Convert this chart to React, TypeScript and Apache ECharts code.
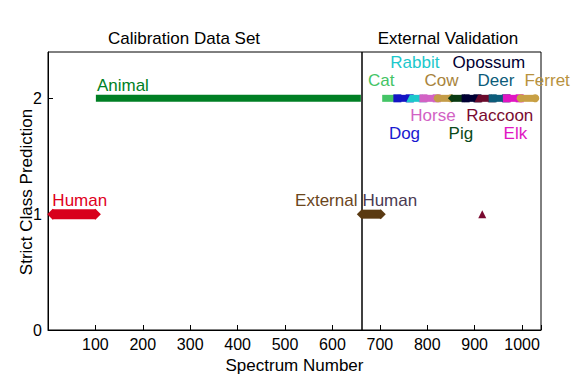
import React, { useEffect, useRef } from "react";
import * as echarts from "echarts";

// Segments of consecutive spectra and their strict class prediction (1 = Human, 2 = Animal)
const segmentNames = ["Human", "Animal", "External Human", "Cat", "Dog", "Rabbit", "Horse", "Cow", "Pig", "Opossum", "Raccoon", "Deer", "Elk", "Ferret"];
const segmentStart = [10, 101, 662, 705, 737, 764, 792, 822, 852, 881, 908, 938, 968, 997];
const segmentEnd = [100, 660, 702, 735, 763, 790, 820, 850, 879, 906, 936, 966, 995, 1028];
const segmentClass = [1, 2, 1, 2, 2, 2, 2, 2, 2, 2, 2, 2, 2, 2];
const segmentColors = ["#d8001c", "#007f24", "#5a3a12", "#44c466", "#1414c4", "#1cc8cc", "#d262c4", "#c49c48", "#0a3a12", "#000033", "#6a0a2c", "#0c5c7a", "#e016c2", "#c8a044"];

// A single misclassified spectrum
const outlierX = [916];
const outlierY = [1];

// Annotation texts
const labelNames = ["Human", "Animal", "External", "Human", "Cat", "Rabbit", "Opossum", "Cow", "Deer", "Ferret", "Horse", "Raccoon", "Dog", "Pig", "Elk"];
const labelX = [67, 158, 587, 721, 703, 774, 930, 830, 945, 1053, 812, 953, 752, 871, 986];
const labelY = [1.12, 2.11, 1.12, 1.12, 2.15, 2.31, 2.31, 2.15, 2.15, 2.15, 1.85, 1.85, 1.7, 1.7, 1.7];
const labelColors = ["#e0001c", "#007f24", "#6b461c", "#4a3a52", "#44c466", "#1cc8cc", "#000033", "#a8843c", "#0c5c7a", "#b8923e", "#d262c4", "#7a0a30", "#1a1ad0", "#0a4a1a", "#e016c2"];

const xTicks = [100, 200, 300, 400, 500, 600, 700, 800, 900, 1000];
const yTicks = [0, 1, 2];
const boundaryX = 661;
const panelTitles = ["Calibration Data Set", "External Validation"];
const xAxisTitle = "Spectrum Number";
const yAxisTitle = "Strict Class Prediction";

const FONT = "'Liberation Sans', Arial, Helvetica, sans-serif";

export default function App() {
  const ref = useRef<HTMLDivElement>(null);
  useEffect(() => {
    if (!ref.current) return;
    const chart = echarts.init(ref.current, undefined, { renderer: "svg" });
    const symbols: Record<string, string> = {
      Human: "diamond",
      Animal: "none",
      "External Human": "diamond",
      Cat: "none",
      Dog: "rect",
      Rabbit: "triangle",
      Horse: "rect",
      Cow: "circle",
      Pig: "diamond",
      Opossum: "rect",
      Raccoon: "triangle",
      Deer: "rect",
      Elk: "rect",
      Ferret: "circle",
    };
    const segSeries = segmentNames.map((n, i) => {
      const thick = n === "Human" ? 10 : n === "External Human" ? 9 : 7;
      return {
        type: "line",
        name: n,
        data: [
          [segmentStart[i], segmentClass[i]],
          [segmentEnd[i], segmentClass[i]],
        ],
        symbol: symbols[n],
        symbolSize: n === "Human" ? 11 : n === "External Human" ? 10 : 8,
        showSymbol: true,
        clip: false,
        silent: true,
        itemStyle: { color: segmentColors[i], opacity: 1 },
        lineStyle: { color: segmentColors[i], width: thick, cap: "butt", opacity: 1 },
        z: 3 + i,
      };
    });
    const option: any = {
      animation: false,
      backgroundColor: "#fff",
      textStyle: { fontFamily: FONT },
      grid: { left: 48, right: 33, top: 52, bottom: 57, show: true, borderColor: "#000", borderWidth: 1, backgroundColor: "transparent" },
      xAxis: {
        type: "value",
        min: 0,
        max: 1040,
        interval: 100,
        name: xAxisTitle,
        nameLocation: "middle",
        nameGap: 22,
        nameTextStyle: { fontSize: 17, color: "#000", fontFamily: FONT },
        axisLine: { show: true, lineStyle: { color: "#000", width: 1 } },
        axisTick: { show: true, inside: true, length: 5, lineStyle: { color: "#000" } },
        axisLabel: {
          fontSize: 16,
          color: "#000",
          fontFamily: FONT,
          margin: 6,
          formatter: (v: number) => (xTicks.indexOf(v) >= 0 ? String(v) : ""),
        },
        splitLine: { show: false },
      },
      yAxis: {
        type: "value",
        min: 0,
        max: 2.4,
        interval: 1,
        axisLine: { show: true, lineStyle: { color: "#000", width: 1 } },
        axisTick: { show: true, inside: true, length: 5, lineStyle: { color: "#000" } },
        axisLabel: {
          fontSize: 16,
          color: "#000",
          fontFamily: FONT,
          margin: 6,
          showMaxLabel: false,
          formatter: (v: number) => (yTicks.indexOf(v) >= 0 ? String(v) : ""),
        },
        splitLine: { show: false },
      },
      graphic: [
        { type: "text", x: 184, y: 38, style: { text: panelTitles[0], font: `17px ${FONT}`, fill: "#000", align: "center", verticalAlign: "middle" } },
        { type: "text", x: 448, y: 38, style: { text: panelTitles[1], font: `17px ${FONT}`, fill: "#000", align: "center", verticalAlign: "middle" } },
        { type: "text", x: 26, y: 192, rotation: Math.PI / 2, style: { text: yAxisTitle, font: `17px ${FONT}`, fill: "#000", align: "center", verticalAlign: "middle" } },
      ],
      series: [
        {
          type: "line",
          data: [],
          silent: true,
          markLine: {
            silent: true,
            symbol: "none",
            label: { show: false },
            lineStyle: { color: "#000", width: 1.5, type: "solid" },
            data: [{ xAxis: boundaryX }],
          },
          z: 20,
        },
        ...segSeries,
        {
          type: "scatter",
          data: outlierX.map((x, i) => [x, outlierY[i]]),
          symbol: "triangle",
          symbolSize: 8,
          itemStyle: { color: "#7a0a30", opacity: 1 },
          silent: true,
          z: 30,
        },
        {
          type: "scatter",
          clip: false,
          silent: true,
          symbolSize: 0,
          itemStyle: { opacity: 1 },
          data: labelNames.map((n, i) => ({
            name: n,
            value: [labelX[i], labelY[i]],
            label: { color: labelColors[i] },
          })),
          label: {
            show: true,
            position: "inside",
            formatter: (p: any) => p.name,
            fontSize: 17,
            fontFamily: FONT,
          },
          z: 40,
        },
      ],
    };
    chart.setOption(option);
    return () => chart.dispose();
  }, []);
  return <div ref={ref} style={{ position: "fixed", left: 0, top: 0, width: 574, height: 387, background: "#fff" }} />;
}
